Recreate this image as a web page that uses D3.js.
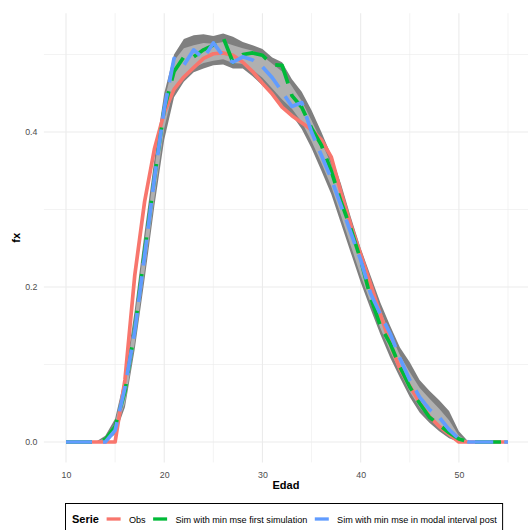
<!DOCTYPE html>
<html>
<head>
<meta charset="utf-8">
<script src="https://cdn.jsdelivr.net/npm/d3@7"></script>
<style>
    body { margin: 0; background: #fff; }
    svg { display: block; font-family: "Liberation Sans", Arial, sans-serif; }
</style>
</head>
<body>
<svg width="528" height="530"></svg>
<script>
// ages (Edad) and the density curves
const edad = [10, 11, 12, 13, 14, 15, 16, 17, 18, 19,
    20, 21, 22, 23, 24, 25, 26, 27, 28, 29,
    30, 31, 32, 33, 34, 35, 36, 37, 38, 39,
    40, 41, 42, 43, 44, 45, 46, 47, 48, 49,
    50, 51, 52, 53, 54, 55];

const obs = [0, 0, 0, 0, 0, 0, 0.08, 0.215, 0.31, 0.378,
    0.425, 0.455, 0.471, 0.483, 0.495, 0.501, 0.502, 0.499, 0.49, 0.478,
    0.463, 0.449, 0.432, 0.421, 0.412, 0.403, 0.39, 0.368, 0.322, 0.28,
    0.242, 0.204, 0.165, 0.127, 0.094, 0.072, 0.051, 0.033, 0.02, 0.01,
    0, 0, 0, 0, 0, 0];

const simFirst = [0, 0, 0, 0, 0.003, 0.02, 0.065, 0.145, 0.245, 0.34,
    0.43, 0.478, 0.497, 0.497, 0.506, 0.512, 0.522, 0.49, 0.5, 0.502,
    0.499, 0.487, 0.486, 0.447, 0.432, 0.405, 0.383, 0.35, 0.31, 0.275,
    0.235, 0.187, 0.15, 0.127, 0.097, 0.071, 0.05, 0.032, 0.022, 0.012,
    0.004, 0, 0, 0, 0, 0];

const simModal = [0, 0, 0, 0, 0, 0.015, 0.07, 0.143, 0.24, 0.34,
    0.43, 0.495, 0.486, 0.506, 0.495, 0.515, 0.498, 0.49, 0.497, 0.493,
    0.484, 0.47, 0.452, 0.433, 0.438, 0.4, 0.37, 0.34, 0.305, 0.27,
    0.235, 0.192, 0.165, 0.14, 0.108, 0.08, 0.058, 0.042, 0.032, 0.016,
    0.004, 0, 0, 0, 0, 0];

// simulation envelope: outer (min / max) and inner band
const bandMin = [0, 0, 0, 0, 0, 0.01, 0.045, 0.12, 0.21, 0.305,
    0.39, 0.445, 0.465, 0.477, 0.482, 0.486, 0.487, 0.482, 0.482, 0.472,
    0.46, 0.447, 0.432, 0.422, 0.404, 0.379, 0.35, 0.32, 0.282, 0.244,
    0.206, 0.172, 0.139, 0.109, 0.083, 0.058, 0.038, 0.025, 0.014, 0.005,
    0, 0, 0, 0, 0, 0];

const bandMax = [0, 0, 0, 0, 0.008, 0.03, 0.085, 0.17, 0.27, 0.365,
    0.45, 0.5, 0.52, 0.525, 0.526, 0.524, 0.527, 0.523, 0.516, 0.512,
    0.507, 0.496, 0.49, 0.468, 0.452, 0.428, 0.4, 0.37, 0.333, 0.29,
    0.25, 0.215, 0.18, 0.15, 0.122, 0.103, 0.08, 0.066, 0.054, 0.04,
    0.014, 0, 0, 0, 0, 0];

const bandLo = [0, 0, 0, 0, 0.001, 0.014, 0.05, 0.128, 0.22, 0.315,
    0.405, 0.458, 0.473, 0.483, 0.489, 0.492, 0.494, 0.489, 0.488, 0.48,
    0.47, 0.456, 0.442, 0.43, 0.413, 0.388, 0.36, 0.33, 0.292, 0.253,
    0.215, 0.18, 0.147, 0.117, 0.09, 0.065, 0.045, 0.03, 0.019, 0.008,
    0.002, 0, 0, 0, 0, 0];

const bandHi = [0, 0, 0, 0, 0.005, 0.025, 0.078, 0.16, 0.258, 0.352,
    0.44, 0.492, 0.508, 0.512, 0.515, 0.514, 0.516, 0.512, 0.508, 0.505,
    0.498, 0.488, 0.478, 0.459, 0.44, 0.415, 0.388, 0.358, 0.32, 0.28,
    0.24, 0.205, 0.17, 0.14, 0.112, 0.09, 0.07, 0.056, 0.043, 0.028,
    0.008, 0, 0, 0, 0, 0];

const xTicks = [10, 20, 30, 40, 50];
const xMinor = [15, 25, 35, 45, 55];
const yTicks = [0, 0.2, 0.4];
const yMinor = [0.1, 0.3, 0.5];

const serieNames = ["Obs", "Sim with min mse first simulation", "Sim with min mse in modal interval post"];
const serieColors = ["#F8766D", "#00BA38", "#619CFF"];
const serieValues = [obs, simFirst, simModal];

const svg = d3.select("svg");

const x = d3.scaleLinear().domain([10, 55]).range([66, 508]);
const y = d3.scaleLinear().domain([0, 0.4]).range([442, 132]);

// panel limits, ggplot style 5% expansion
const xPad = (55 - 10) * 0.05;
const yTop = d3.max(bandMax);
const panel = {
    left: x(10 - xPad), right: Math.min(528, x(55 + xPad)),
    top: y(yTop * 1.05), bottom: y(-yTop * 0.05)
};

// --- grid ---
const grid = svg.append("g");
grid.selectAll(".xminor").data(xMinor).join("line")
    .attr("x1", d => x(d)).attr("x2", d => x(d))
    .attr("y1", panel.top).attr("y2", panel.bottom)
    .attr("stroke", "#ebebeb").attr("stroke-width", 0.6);
grid.selectAll(".yminor").data(yMinor).join("line")
    .attr("x1", panel.left).attr("x2", panel.right)
    .attr("y1", d => y(d)).attr("y2", d => y(d))
    .attr("stroke", "#ebebeb").attr("stroke-width", 0.6);
grid.selectAll(".xmajor").data(xTicks).join("line")
    .attr("x1", d => x(d)).attr("x2", d => x(d))
    .attr("y1", panel.top).attr("y2", panel.bottom)
    .attr("stroke", "#ebebeb").attr("stroke-width", 1.1);
grid.selectAll(".ymajor").data(yTicks).join("line")
    .attr("x1", panel.left).attr("x2", panel.right)
    .attr("y1", d => y(d)).attr("y2", d => y(d))
    .attr("stroke", "#ebebeb").attr("stroke-width", 1.1);

// --- envelope ---
const idx = d3.range(edad.length);
const area = (lo, hi) => d3.area()
    .x(i => x(edad[i]))
    .y0(i => y(lo[i]))
    .y1(i => y(hi[i]));

svg.append("path").datum(idx)
    .attr("d", area(bandMin, bandMax))
    .attr("fill", "#7f7f7f");
svg.append("path").datum(idx)
    .attr("d", area(bandLo, bandHi))
    .attr("fill", "#b0b0b0");

// --- series ---
const line = vals => d3.line()
    .x(i => x(edad[i]))
    .y(i => y(vals[i]));

serieValues.forEach((vals, k) => {
    svg.append("path").datum(idx)
        .attr("d", line(vals))
        .attr("fill", "none")
        .attr("stroke", serieColors[k])
        .attr("stroke-width", 3.7)
        .attr("stroke-linejoin", "round")
        .attr("stroke-linecap", "butt")
        .attr("stroke-dasharray", k === 0 ? null : "26 11");
});

// --- axes labels ---
const xAxis = svg.append("g")
    .attr("transform", `translate(0,${panel.bottom})`)
    .call(d3.axisBottom(x).tickValues(xTicks).tickFormat(d3.format("d")).tickSize(0).tickPadding(9.5));
const yAxis = svg.append("g")
    .attr("transform", `translate(${panel.left},0)`)
    .call(d3.axisLeft(y).tickValues(yTicks).tickFormat(d3.format(".1f")).tickSize(0).tickPadding(6.5));
[xAxis, yAxis].forEach(g => {
    g.select(".domain").remove();
    g.selectAll("text")
        .attr("fill", "#4d4d4d")
        .style("font-size", "8.8px")
        .style("font-family", "'Liberation Sans', Arial, sans-serif");
});

svg.append("text")
    .attr("x", (panel.left + panel.right) / 2).attr("y", 488.5)
    .attr("text-anchor", "middle")
    .style("font-size", "11px").style("font-weight", "bold")
    .text("Edad");

svg.append("text")
    .attr("transform", `translate(20,${(panel.top + panel.bottom) / 2}) rotate(-90)`)
    .attr("text-anchor", "middle")
    .style("font-size", "11px").style("font-weight", "bold")
    .text("fx");

// --- legend ---
const legend = svg.append("g");
const box = legend.append("rect")
    .attr("x", 65.5).attr("y", 503.5)
    .attr("height", 40)
    .attr("fill", "#fff").attr("stroke", "#000").attr("stroke-width", 1);

const title = legend.append("text")
    .attr("x", 72).attr("y", 523)
    .style("font-size", "11px").style("font-weight", "bold")
    .text("Serie");

let cx = 72 + title.node().getComputedTextLength() + 7.7;
serieNames.forEach((name, k) => {
    legend.append("line")
        .attr("x1", cx).attr("x2", cx + 14)
        .attr("y1", 519).attr("y2", 519)
        .attr("stroke", serieColors[k]).attr("stroke-width", 3.3);
    const t = legend.append("text")
        .attr("x", cx + 22.3).attr("y", 522.5)
        .style("font-size", "9.1px")
        .text(name);
    cx += 22.3 + t.node().getComputedTextLength() + 7.5;
});
box.attr("width", cx - 7.5 + 5.8 - 65.5);
</script>
</body>
</html>
